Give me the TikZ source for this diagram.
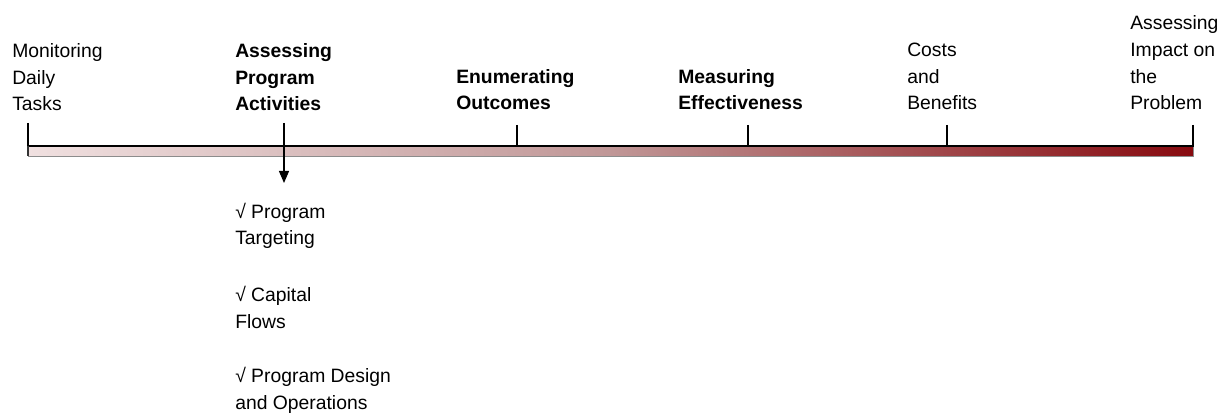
\documentclass[tikz,border=0pt]{standalone}
\usepackage{fontspec}
\setmainfont{Liberation Sans}
\usetikzlibrary{arrows.meta}
\pgfdeclarehorizontalshading{barshade}{100bp}{rgb(0bp)=(0.941,0.878,0.878); rgb(25bp)=(0.941,0.878,0.878); rgb(50bp)=(0.753,0.59,0.59); rgb(75bp)=(0.53,0.04,0.06); rgb(100bp)=(0.53,0.04,0.06)}
\begin{document}
\begin{tikzpicture}[x=0.75pt,y=-0.75pt,
  lbl/.style={font=\fontsize{14.5}{20}\selectfont, align=left, inner sep=0pt, anchor=base west},
  blbl/.style={lbl, font=\fontsize{14.5}{20}\selectfont\bfseries},
  tick/.style={line width=0.8pt, draw=black},
  pointer/.style={line width=0.9pt, -{Triangle[width=7.5pt,length=9pt]}}]
\useasboundingbox (0,0) rectangle (1220,413);
% bar
\shade[shading=barshade, draw=black!45, line width=0.6pt] (28,146) rectangle (1193,156);
\draw[line width=1.6pt] (27.5,146) -- (1193.5,146);
\draw[line width=0.8pt, black!80] (28,146) -- (28,156);
% coordinates
\coordinate (b1) at (28,146);  \coordinate (u1) at (28,123);
\coordinate (b2) at (284,146); \coordinate (u2) at (284,123); \coordinate (d2) at (284,183);
\coordinate (b3) at (517,146); \coordinate (u3) at (517,125);
\coordinate (b4) at (748,146); \coordinate (u4) at (748,125);
\coordinate (b5) at (947,146); \coordinate (u5) at (947,125);
\coordinate (b6) at (1193,146); \coordinate (u6) at (1193,125);
\draw[tick] (u1) -- (b1);
\draw[tick] (u3) -- (b3);
\draw[tick] (u4) -- (b4);
\draw[tick] (u5) -- (b5);
\draw[tick] (u6) -- (b6);
\draw[pointer] (u2) -- (d2);
% labels (anchored at the baseline of the last line)
\node[lbl]  (n1) at (12,111)   {Monitoring\\Daily\\Tasks};
\node[blbl] (n2) at (235,111)  {Assessing\\Program\\Activities};
\node[blbl] (n3) at (456,110)  {Enumerating\\Outcomes};
\node[blbl] (n4) at (678,110)  {Measuring\\Effectiveness};
\node[lbl]  (n5) at (907,110)  {Costs\\and\\Benefits};
\node[lbl]  (n6) at (1130,110) {Assessing\\Impact on\\the\\Problem};
% sub items
\node[lbl] (s1) at (235,245) {√ Program\\Targeting};
\node[lbl] (s2) at (235,328) {√ Capital\\Flows};
\node[lbl] (s3) at (235,409) {√ Program Design\\and Operations};
\end{tikzpicture}
\end{document}
